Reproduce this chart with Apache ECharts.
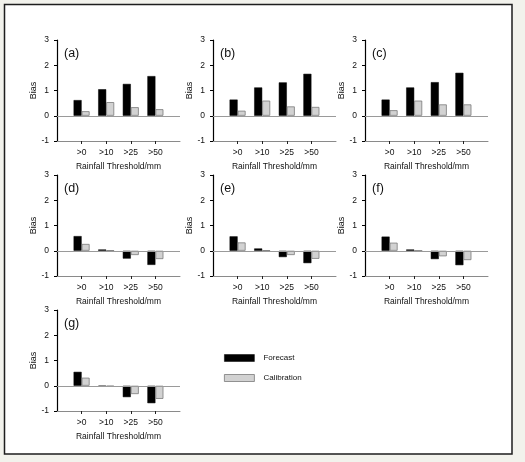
<!DOCTYPE html>
<html>
<head>
<meta charset="utf-8">
<script src="https://cdn.jsdelivr.net/npm/echarts@6/dist/echarts.min.js"></script>
<style>
html,body{margin:0;padding:0;background:#f2f2ec;}
#chart{width:525px;height:462px;}
</style>
</head>
<body>
<div id="chart"></div>
<script>
// ---- data ----
const categories = ['>0', '>10', '>25', '>50'];
const panelLabels = ['(a)', '(b)', '(c)', '(d)', '(e)', '(f)', '(g)'];
const forecastA = [0.62, 1.05, 1.26, 1.57];
const calibA    = [0.18, 0.54, 0.34, 0.26];
const forecastB = [0.64, 1.12, 1.32, 1.66];
const calibB    = [0.20, 0.60, 0.37, 0.35];
const forecastC = [0.64, 1.12, 1.33, 1.70];
const calibC    = [0.22, 0.60, 0.45, 0.45];
const forecastD = [0.58, 0.05, -0.31, -0.56];
const calibD    = [0.27, 0.01, -0.17, -0.33];
const forecastE = [0.57, 0.09, -0.25, -0.49];
const calibE    = [0.33, 0.01, -0.17, -0.32];
const forecastF = [0.56, 0.05, -0.33, -0.57];
const calibF    = [0.32, 0.00, -0.22, -0.37];
const forecastG = [0.55, -0.02, -0.45, -0.69];
const calibG    = [0.32, -0.03, -0.33, -0.52];
const yTicks = [-1, 0, 1, 2, 3];

const forecasts = [forecastA, forecastB, forecastC, forecastD, forecastE, forecastF, forecastG];
const calibs = [calibA, calibB, calibC, calibD, calibE, calibF, calibG];

// ---- layout ----
const colLeft = [57, 213, 365];
const rowTop = [40, 175, 310];
const gw = 123, gh = 101;
const FONT = '"Liberation Sans", Arial, sans-serif';

const axisCats = [''].concat(categories, ['']);
const pad = arr => [null].concat(arr, [null]);

const grids = [], xAxes = [], yAxes = [], series = [], titles = [];
for (let i = 0; i < 7; i++) {
  const r = Math.floor(i / 3), c = i % 3;
  grids.push({left: colLeft[c], top: rowTop[r], width: gw, height: gh, containLabel: false});
  xAxes.push({
    type: 'category', gridIndex: i, data: axisCats, boundaryGap: false,
    position: 'bottom',
    axisLine: {onZero: false, lineStyle: {color: '#8a8a8a', width: 1}},
    axisTick: {length: 3, lineStyle: {color: '#222'}, interval: (idx) => idx > 0 && idx < axisCats.length - 1},
    axisLabel: {fontSize: 8.5, color: '#111', margin: 7, fontFamily: FONT, interval: 0},
    splitLine: {show: false},
    name: 'Rainfall Threshold/mm', nameLocation: 'middle', nameGap: 21,
    nameTextStyle: {fontSize: 8.5, color: '#111', fontFamily: FONT}
  });
  yAxes.push({
    type: 'value', gridIndex: i, min: yTicks[0], max: yTicks[yTicks.length - 1], interval: 1,
    axisLine: {show: true, lineStyle: {color: '#000', width: 1.2}},
    axisTick: {show: true, length: 3, lineStyle: {color: '#000'}},
    axisLabel: {fontSize: 8.5, color: '#111', margin: 8, fontFamily: FONT},
    splitLine: {show: false},
    name: 'Bias', nameLocation: 'middle', nameGap: 19,
    nameTextStyle: {fontSize: 9, color: '#111', fontFamily: FONT}
  });
  series.push({
    name: 'Forecast', type: 'bar', xAxisIndex: i, yAxisIndex: i,
    data: pad(forecasts[i]), barWidth: 8, barGap: '0%',
    itemStyle: {color: '#000', borderColor: '#000', borderWidth: 0.5},
    silent: true, animation: false,
    markLine: {
      silent: true, symbol: 'none', animation: false,
      label: {show: false},
      lineStyle: {color: '#9a9a9a', width: 1, type: 'solid'},
      data: [{yAxis: 0}]
    }
  });
  series.push({
    name: 'Calibration', type: 'bar', xAxisIndex: i, yAxisIndex: i,
    data: pad(calibs[i]), barWidth: 8, barGap: '0%',
    itemStyle: {color: '#d2d2d2', borderColor: '#7a7a7a', borderWidth: 0.8},
    silent: true, animation: false
  });
  titles.push({
    text: panelLabels[i], left: colLeft[c] + 2, top: rowTop[r] + 2,
    textStyle: {fontSize: 12.5, fontWeight: 'normal', color: '#111', fontFamily: FONT}
  });
}

const chart = echarts.init(document.getElementById('chart'), null, {renderer: 'canvas'});
chart.setOption({
  backgroundColor: '#f2f2ec',
  animation: false,
  graphic: [{
    type: 'rect', z: -10, silent: true,
    shape: {x: 4.5, y: 4.5, width: 507.5, height: 449.5},
    style: {fill: '#ffffff', stroke: '#1e1e1e', lineWidth: 1.5}
  }],
  title: titles,
  legend: {
    orient: 'vertical', left: 224, top: 354, padding: 0,
    itemWidth: 30, itemHeight: 7, itemGap: 12,
    icon: 'rect',
    textStyle: {fontSize: 8, color: '#111', fontFamily: FONT, padding: [0, 0, 0, 4]},
    data: [
      {name: 'Forecast', itemStyle: {color: '#000', borderColor: '#000', borderWidth: 0.5}},
      {name: 'Calibration', itemStyle: {color: '#d2d2d2', borderColor: '#7a7a7a', borderWidth: 0.8}}
    ]
  },
  grid: grids,
  xAxis: xAxes,
  yAxis: yAxes,
  series: series
});
</script>
</body>
</html>
